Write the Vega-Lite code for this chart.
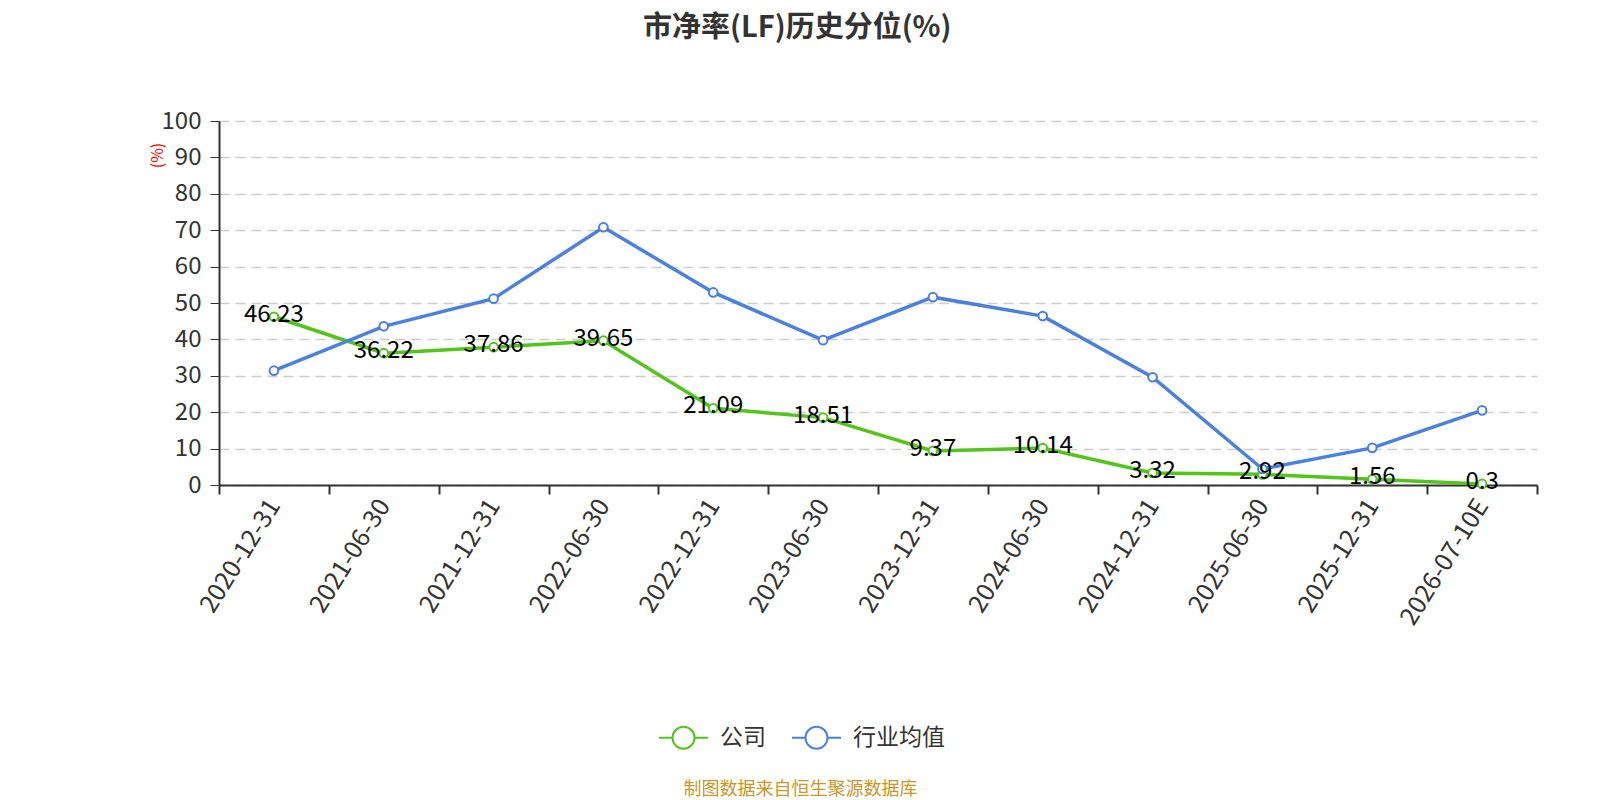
{
  "$schema": "https://vega.github.io/schema/vega-lite/v6.json",
  "autosize": {"type": "none"},
  "padding": {"left": 219, "top": 121, "right": 63, "bottom": 315},
  "width": 1318,
  "height": 364,
  "background": "white",
  "config": {
    "font": "Noto Sans CJK SC",
    "view": {"stroke": null}
  },
  "title": {
    "text": "市净率(LF)历史分位(%)",
    "fontSize": 29,
    "fontWeight": "bold",
    "color": "#333333",
    "anchor": "start",
    "frame": "group",
    "dx": 424,
    "offset": 66
  },
  "data": {
    "values": [
      {"date": "2020-12-31", "series": "公司", "value": 46.23},
      {"date": "2021-06-30", "series": "公司", "value": 36.22},
      {"date": "2021-12-31", "series": "公司", "value": 37.86},
      {"date": "2022-06-30", "series": "公司", "value": 39.65},
      {"date": "2022-12-31", "series": "公司", "value": 21.09},
      {"date": "2023-06-30", "series": "公司", "value": 18.51},
      {"date": "2023-12-31", "series": "公司", "value": 9.37},
      {"date": "2024-06-30", "series": "公司", "value": 10.14},
      {"date": "2024-12-31", "series": "公司", "value": 3.32},
      {"date": "2025-06-30", "series": "公司", "value": 2.92},
      {"date": "2025-12-31", "series": "公司", "value": 1.56},
      {"date": "2026-07-10E", "series": "公司", "value": 0.3},
      {"date": "2020-12-31", "series": "行业均值", "value": 31.4},
      {"date": "2021-06-30", "series": "行业均值", "value": 43.6},
      {"date": "2021-12-31", "series": "行业均值", "value": 51.2},
      {"date": "2022-06-30", "series": "行业均值", "value": 70.8},
      {"date": "2022-12-31", "series": "行业均值", "value": 52.9},
      {"date": "2023-06-30", "series": "行业均值", "value": 39.8},
      {"date": "2023-12-31", "series": "行业均值", "value": 51.6},
      {"date": "2024-06-30", "series": "行业均值", "value": 46.4},
      {"date": "2024-12-31", "series": "行业均值", "value": 29.6},
      {"date": "2025-06-30", "series": "行业均值", "value": 4.4},
      {"date": "2025-12-31", "series": "行业均值", "value": 10.2},
      {"date": "2026-07-10E", "series": "行业均值", "value": 20.5}
    ]
  },
  "encoding": {
    "x": {
      "field": "date",
      "type": "ordinal",
      "sort": null,
      "scale": {"paddingInner": 0, "paddingOuter": 0},
      "axis": {
        "title": "制图数据来自恒生聚源数据库",
        "titleColor": "#c9962c",
        "titleFontSize": 18,
        "titleFontWeight": "normal",
        "titleX": 581,
        "titleY": 304,
        "titleBaseline": "middle",
        "titleAlign": "center",
        "labelAngle": -58,
        "labelFontSize": 25,
        "labelColor": "#333333",
        "labelPadding": 7,
        "tickBand": "extent",
        "tickSize": 9,
        "tickColor": "#333333",
        "tickWidth": 2,
        "domainColor": "#333333",
        "domainWidth": 2,
        "grid": false
      }
    },
    "y": {
      "field": "value",
      "type": "quantitative",
      "scale": {"domain": [0, 100], "nice": false},
      "axis": {
        "title": "(%)",
        "titleColor": "red",
        "titleFontSize": 16,
        "titleFontWeight": "normal",
        "titleX": -62,
        "titleY": 34,
        "titleAlign": "center",
        "titleBaseline": "middle",
        "values": [0, 10, 20, 30, 40, 50, 60, 70, 80, 90, 100],
        "labelFontSize": 24,
        "labelColor": "#333333",
        "labelPadding": 9,
        "tickSize": 9,
        "tickColor": "#333333",
        "tickWidth": 1,
        "domainColor": "#333333",
        "domainWidth": 2,
        "grid": true,
        "gridColor": "#cccccc",
        "gridDash": [10, 6],
        "gridWidth": 1.5
      }
    }
  },
  "layer": [
    {
      "mark": {"type": "line", "strokeWidth": 3.5},
      "encoding": {
        "color": {
          "field": "series",
          "type": "nominal",
          "scale": {"domain": ["公司", "行业均值"], "range": ["#52c41a", "#4a80e0"]},
          "legend": {
            "title": null,
            "orient": "none",
            "direction": "horizontal",
            "legendX": 439,
            "legendY": 591,
            "symbolType": "M-1,0L-0.45,0M0.45,0L1,0M-0.45,0A0.45,0.45,0,1,1,0.45,0A0.45,0.45,0,1,1,-0.45,0",
            "symbolSize": 2401,
            "symbolStrokeWidth": 2,
            "labelFontSize": 23,
            "labelColor": "#333333",
            "labelOffset": 11,
            "columnPadding": 22
          }
        }
      }
    },
    {
      "mark": {"type": "point", "filled": false, "fill": "white", "fillOpacity": 1, "opacity": 1, "size": 75, "strokeWidth": 2},
      "encoding": {
        "color": {"field": "series", "type": "nominal"}
      }
    },
    {
      "transform": [{"filter": "datum.series == '公司'"}],
      "mark": {"type": "text", "fontSize": 24, "color": "#000000", "baseline": "middle", "dy": -2},
      "encoding": {
        "text": {"field": "value", "type": "quantitative"}
      }
    }
  ]
}
